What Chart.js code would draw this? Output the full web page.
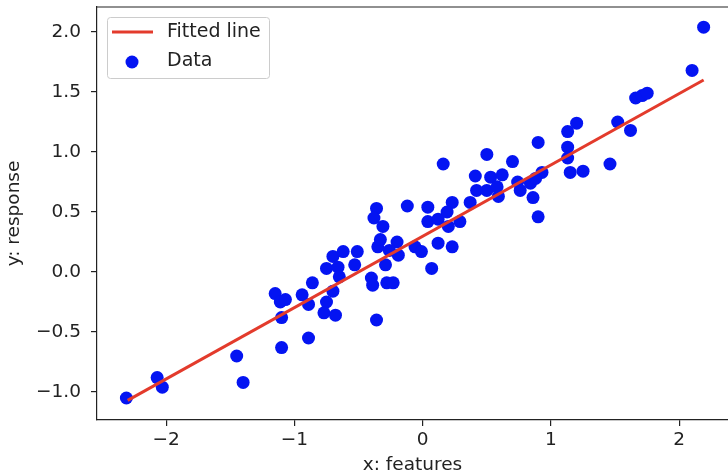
<!DOCTYPE html>
<html>
<head>
<meta charset="utf-8">
<script src="https://cdn.jsdelivr.net/npm/chart.js@4/dist/chart.umd.min.js"></script>
<style>
  html, body { margin: 0; padding: 0; background: #fff; }
  #wrap { width: 728px; height: 476px; }
</style>
</head>
<body>
<div id="wrap"><canvas id="myChart" width="728" height="476"></canvas></div>
<script>
// valores
const dataX = [-2.31, -2.07, -2.03, -1.45, -1.40, -1.15, -1.11, -1.07, -1.10, -1.10,
  -0.94, -0.89, -0.86, -0.89, -0.75, -0.70, -0.62, -0.51, -0.66, -0.53,
  -0.65, -0.70, -0.75, -0.77, -0.68, -0.40, -0.39, -0.36, -0.35, -0.36,
  -0.38, -0.31, -0.33, -0.20, -0.26, -0.19, -0.29, -0.28, -0.23, -0.12,
  0.04, 0.23, 0.37, 0.19, 0.04, 0.12, 0.29, 0.20, -0.06, -0.01,
  0.12, 0.23, 0.07, 0.16, 0.50, 0.41, 0.53, 0.42, 0.50, 0.58,
  0.59, 0.62, 0.70, 0.74, 0.76, 0.84, 0.93, 0.88, 0.86, 0.90,
  0.90, 1.13, 1.20, 1.13, 1.13, 1.15, 1.25, 1.46, 1.52, 1.62,
  1.66, 1.71, 1.75, 2.10, 2.19];
const dataY = [-1.05, -0.88, -0.96, -0.70, -0.92, -0.18, -0.25, -0.23, -0.38, -0.63,
  -0.19, -0.27, -0.09, -0.55, 0.03, 0.13, 0.17, 0.17, 0.04, 0.06,
  -0.04, -0.16, -0.25, -0.34, -0.36, -0.05, -0.11, -0.40, 0.21, 0.53,
  0.45, 0.38, 0.27, 0.25, 0.18, 0.14, 0.06, -0.09, -0.09, 0.55,
  0.54, 0.58, 0.58, 0.50, 0.42, 0.44, 0.42, 0.38, 0.21, 0.17,
  0.24, 0.21, 0.03, 0.90, 0.98, 0.80, 0.79, 0.68, 0.68, 0.71,
  0.63, 0.81, 0.92, 0.75, 0.68, 0.74, 0.83, 0.78, 0.62, 0.46,
  1.08, 1.17, 1.24, 1.04, 0.95, 0.83, 0.84, 0.90, 1.25, 1.18,
  1.45, 1.47, 1.49, 1.68, 2.04];
const fitX = [-2.30, 2.19];
const fitY = [-1.07, 1.60];
const xTicks = [-2, -1, 0, 1, 2];
const yTicks = [-1.0, -0.5, 0.0, 0.5, 1.0, 1.5, 2.0];

const corTexto = '#222';
const fonte = { family: 'DejaVu Sans', size: 18.5 };

function menos(s) {
    return s.replace('-', '\u2212');
}

function semPadding(s) {
    s.paddingTop = 0;
    s.paddingBottom = 0;
    s.paddingLeft = 0;
    s.paddingRight = 0;
}

// moldura de cima e legenda dentro do grafico
const molduraLegenda = {
    id: 'molduraLegenda',
    afterDraw(chart) {
        const ctx = chart.ctx;
        const a = chart.chartArea;
        ctx.save();
        ctx.strokeStyle = '#222';
        ctx.lineWidth = 1.2;
        ctx.beginPath();
        ctx.moveTo(a.left, a.top);
        ctx.lineTo(a.right, a.top);
        ctx.stroke();

        const bx = a.left + 10, by = a.top + 10, bw = 162, bh = 61;
        ctx.fillStyle = 'rgba(255,255,255,0.85)';
        ctx.strokeStyle = '#cccccc';
        ctx.lineWidth = 1;
        ctx.beginPath();
        ctx.roundRect(bx + 0.5, by + 0.5, bw, bh, 3);
        ctx.fill();
        ctx.stroke();

        const ds = chart.data.datasets;
        ctx.font = '19px "DejaVu Sans"';
        ctx.textBaseline = 'middle';
        ctx.fillStyle = corTexto;

        // linha
        ctx.strokeStyle = ds[0].borderColor;
        ctx.lineWidth = 3;
        ctx.beginPath();
        ctx.moveTo(bx + 5, by + 15);
        ctx.lineTo(bx + 46, by + 15);
        ctx.stroke();
        ctx.fillText(ds[0].label, bx + 60, by + 15);

        // pontos
        ctx.fillStyle = ds[1].backgroundColor;
        ctx.beginPath();
        ctx.arc(bx + 25, by + 45, 6.5, 0, Math.PI * 2);
        ctx.fill();
        ctx.fillStyle = corTexto;
        ctx.fillText(ds[1].label, bx + 60, by + 44);
        ctx.restore();
    }
};

function criarGrafico() {
    const ctx = document.getElementById('myChart');
    new Chart(ctx, {
        type: 'scatter',
        data: {
            datasets: [{
                type: 'line',
                label: 'Fitted line',
                data: fitX.map((x, i) => ({ x: x, y: fitY[i] })),
                borderColor: '#e33b2c',
                borderWidth: 3,
                pointRadius: 0,
                fill: false,
                order: 0
            }, {
                label: 'Data',
                data: dataX.map((x, i) => ({ x: x, y: dataY[i] })),
                backgroundColor: '#0414f2',
                borderWidth: 0,
                pointRadius: 6.5,
                order: 1
            }]
        },
        options: {
            responsive: false,
            animation: false,
            devicePixelRatio: 1,
            layout: { autoPadding: false, padding: { top: 7, right: 0, left: 0, bottom: 0 } },
            plugins: {
                legend: { display: false },
                tooltip: { enabled: false }
            },
            scales: {
                x: {
                    type: 'linear',
                    min: -2.539,
                    max: 2.38,
                    afterFit: (s) => { s.height = 56; semPadding(s); },
                    afterBuildTicks: (s) => { s.ticks = xTicks.map(v => ({ value: v })); },
                    grid: { drawOnChartArea: false, drawTicks: true, tickLength: 6, color: '#222', lineWidth: 1.2 },
                    border: { display: true, color: '#222', width: 1.2 },
                    ticks: {
                        color: corTexto,
                        font: fonte,
                        padding: 3,
                        maxRotation: 0,
                        callback: (v) => menos(String(v))
                    },
                    title: {
                        display: true,
                        text: 'x: features',
                        color: corTexto,
                        font: fonte,
                        padding: { top: 0, bottom: 0 }
                    }
                },
                y: {
                    type: 'linear',
                    min: -1.2333,
                    max: 2.2083,
                    afterFit: (s) => { s.width = 97; semPadding(s); },
                    afterBuildTicks: (s) => { s.ticks = yTicks.map(v => ({ value: v })); },
                    grid: { drawOnChartArea: false, drawTicks: true, tickLength: 6, color: '#222', lineWidth: 1.2 },
                    border: { display: true, color: '#222', width: 1.2 },
                    ticks: {
                        color: corTexto,
                        font: fonte,
                        padding: 10,
                        callback: (v) => menos(Number(v).toFixed(1))
                    },
                    title: {
                        display: true,
                        text: 'y: response',
                        color: corTexto,
                        font: fonte,
                        padding: { top: 3, bottom: 0 }
                    }
                }
            }
        },
        plugins: [molduraLegenda]
    });
}
criarGrafico()
</script>
</body>
</html>
